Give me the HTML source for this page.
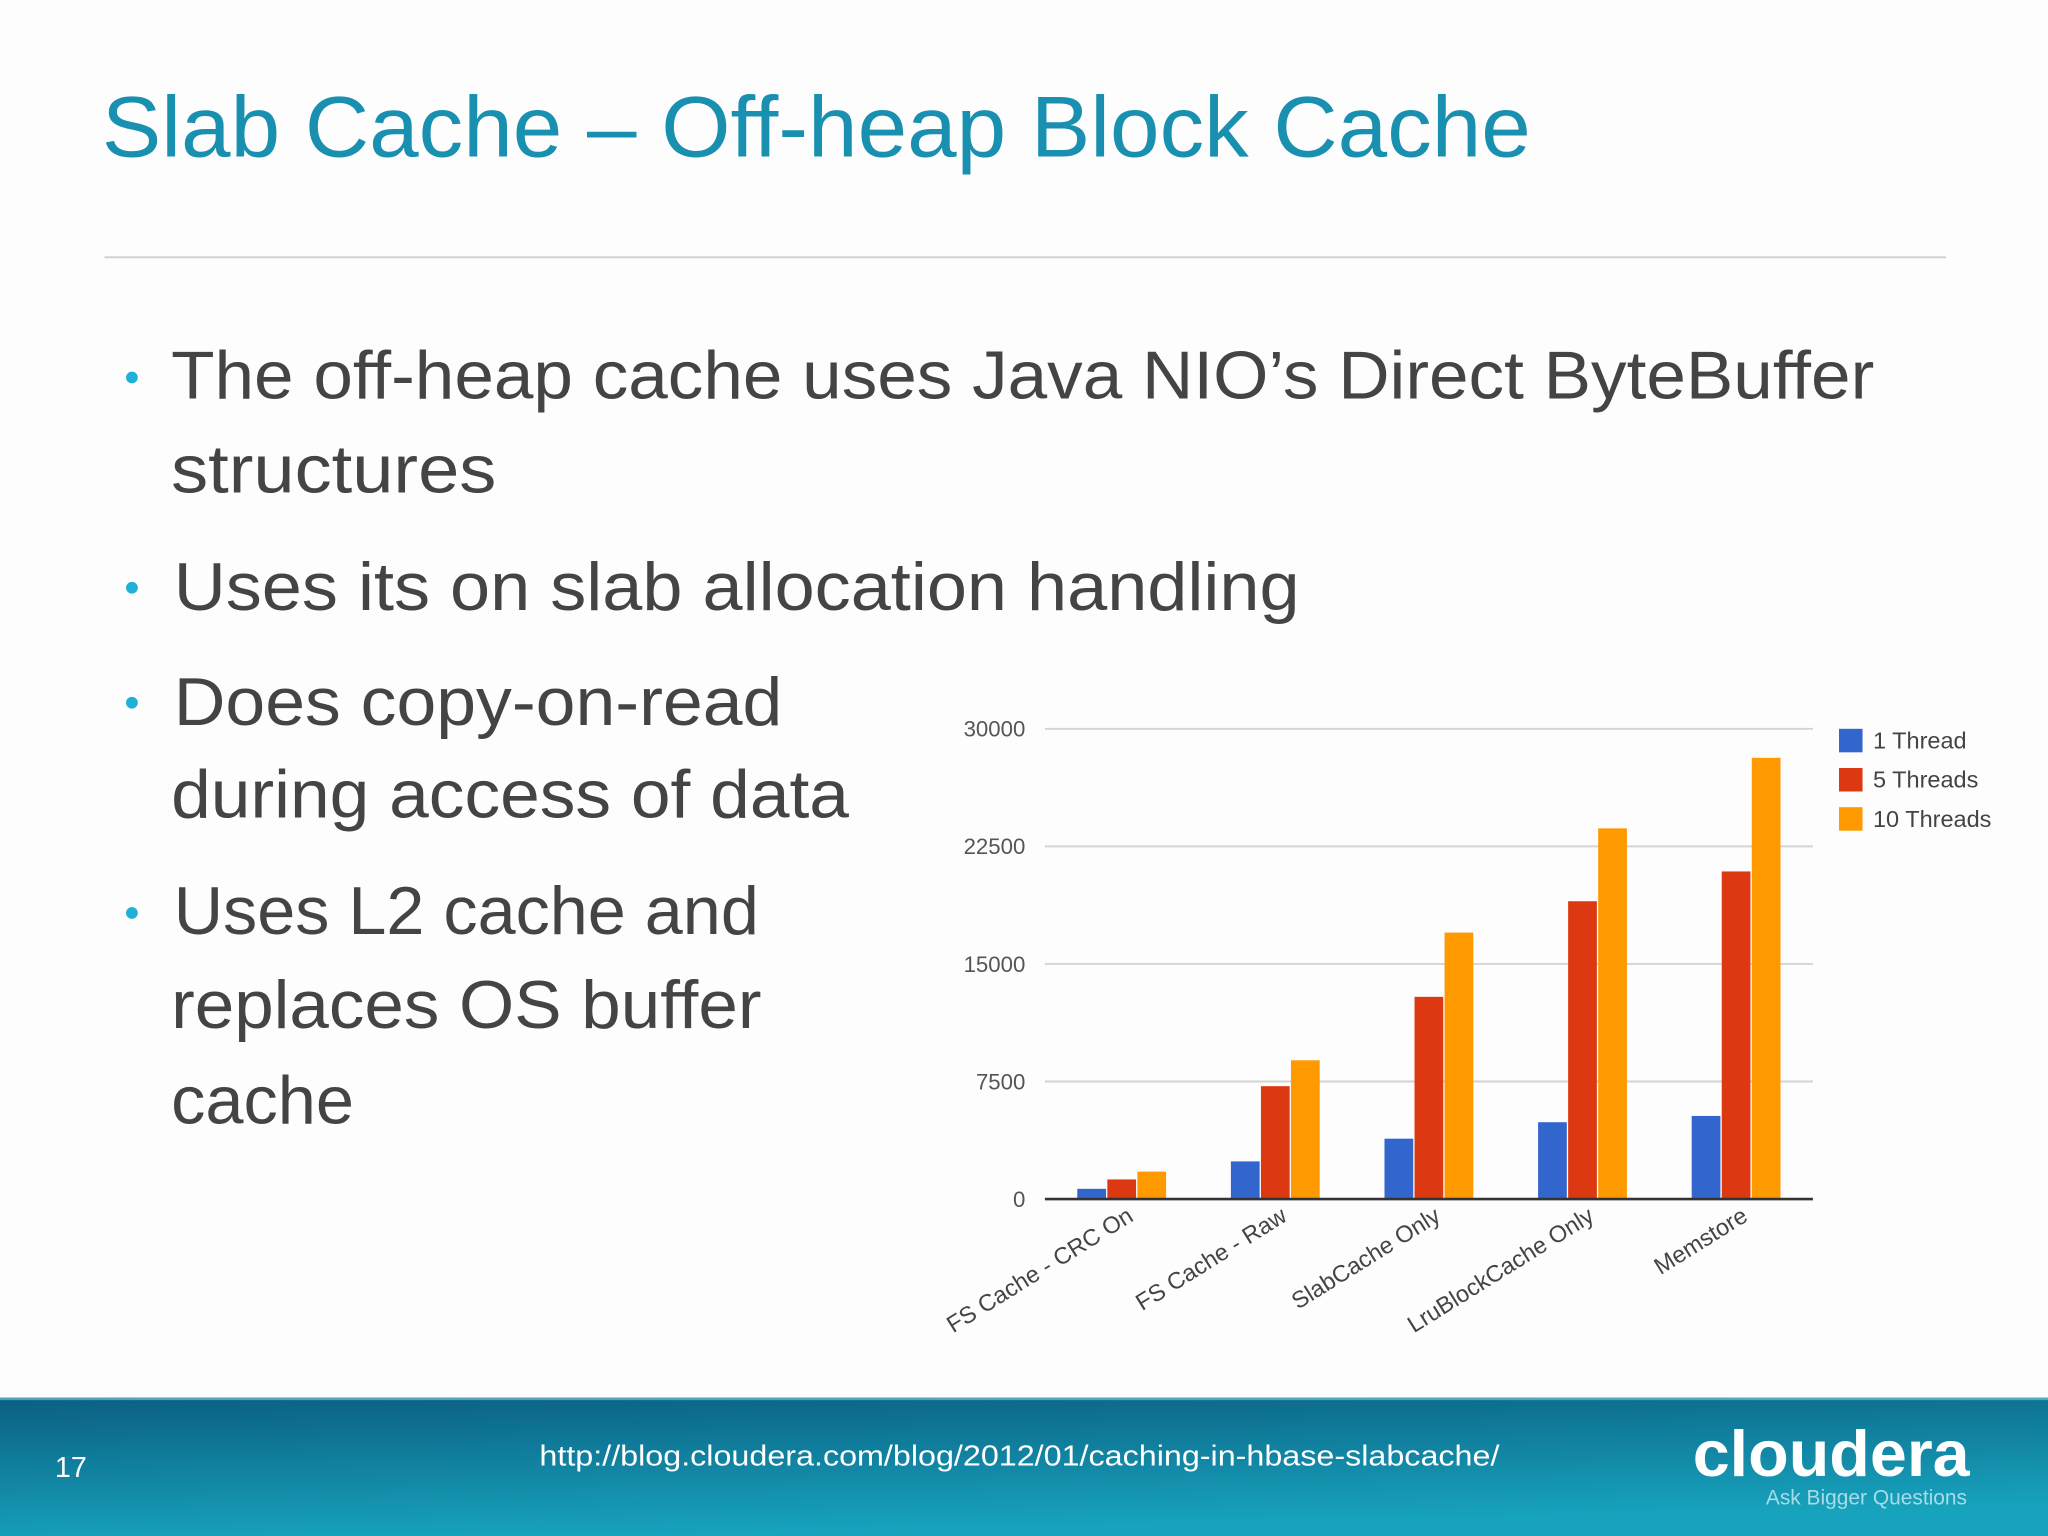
<!DOCTYPE html>
<html><head><meta charset="utf-8"><style>
html,body{margin:0;padding:0;background:#fff;}
svg{display:block;}
</style></head><body>
<svg id="slide" width="2048" height="1536" viewBox="0 0 1568 1176" xmlns="http://www.w3.org/2000/svg" font-family="'Liberation Sans', sans-serif">
<defs>
<linearGradient id="foot" x1="0" y1="0" x2="0.3" y2="1">
<stop offset="0" stop-color="#0b5f82"/><stop offset="1" stop-color="#17a3bd"/>
</linearGradient>
</defs>
<rect width="1568" height="1176" fill="#fdfdfe"/>
<text x="78" y="120" font-size="66" fill="#1a90b0" textLength="1094" lengthAdjust="spacingAndGlyphs">Slab Cache – Off-heap Block Cache</text>
<line x1="80" y1="197" x2="1490" y2="197" stroke="#cfcfcf" stroke-width="1.5"/>
<g fill="#444" font-size="52">
<circle cx="101" cy="289" r="4.5" fill="#1fb0d8"/>
<text x="131" y="305" textLength="1304" lengthAdjust="spacingAndGlyphs">The off-heap cache uses Java NIO’s Direct ByteBuffer</text>
<text x="131" y="377" textLength="249" lengthAdjust="spacingAndGlyphs">structures</text>
<circle cx="101" cy="450" r="4.5" fill="#1fb0d8"/>
<text x="133" y="467" textLength="862" lengthAdjust="spacingAndGlyphs">Uses its on slab allocation handling</text>
<circle cx="101" cy="538" r="4.5" fill="#1fb0d8"/>
<text x="133" y="555" textLength="466" lengthAdjust="spacingAndGlyphs">Does copy-on-read</text>
<text x="131" y="626" textLength="519" lengthAdjust="spacingAndGlyphs">during access of data</text>
<circle cx="101" cy="699" r="4.5" fill="#1fb0d8"/>
<text x="133" y="715" textLength="448" lengthAdjust="spacingAndGlyphs">Uses L2 cache and</text>
<text x="131" y="787" textLength="452" lengthAdjust="spacingAndGlyphs">replaces OS buffer</text>
<text x="131" y="860" textLength="140" lengthAdjust="spacingAndGlyphs">cache</text>
</g>
<g id="chart"></g>
<g>
<rect x="0" y="1070" width="1568" height="106" fill="url(#foot)"/>
<rect x="0" y="1070" width="1568" height="2" fill="#7fd0e0" opacity="0.6"/>
<text x="42" y="1131" font-size="22" fill="#fff">17</text>
<text x="413" y="1122" font-size="22" fill="#fff" textLength="735" lengthAdjust="spacingAndGlyphs">http://blog.cloudera.com/blog/2012/01/caching-in-hbase-slabcache/</text>
<text x="1296" y="1130" font-size="50" font-weight="bold" fill="#fff" textLength="212" lengthAdjust="spacingAndGlyphs">cloudera</text>
<text x="1352" y="1152" font-size="16" fill="#a6dcea" textLength="154" lengthAdjust="spacingAndGlyphs">Ask Bigger Questions</text>
</g>
</svg>
<script>
const categories = ["FS Cache - CRC On","FS Cache - Raw","SlabCache Only","LruBlockCache Only","Memstore"];
const seriesNames = ["1 Thread","5 Threads","10 Threads"];
const oneThread = [650, 2400, 3850, 4900, 5300];
const fiveThreads = [1250, 7200, 12900, 19000, 20900];
const tenThreads = [1750, 8850, 17000, 23650, 28150];
const yTicks = [0, 7500, 15000, 22500, 30000];
const tickLabels = ["0","7500","15000","22500","30000"];

const NS = "http://www.w3.org/2000/svg";
const chart = document.getElementById("chart");
const colors = ["#3366cc","#dc3912","#ff9900"];
const series = [oneThread, fiveThreads, tenThreads];
const X0 = 800, X1 = 1388, Y0 = 918, Y1 = 558, YMAX = 30000;
const band = (X1 - X0) / categories.length;
function yScale(v){ return Y0 - (v / YMAX) * (Y0 - Y1); }
function xCenter(i){ return X0 + band * (i + 0.5); }
function mk(tag, attrs){ const e = document.createElementNS(NS, tag); for (const k in attrs) e.setAttribute(k, attrs[k]); chart.appendChild(e); return e; }

yTicks.forEach((t, i) => {
  const y = yScale(t);
  if (t !== 0) {
    const g = mk("line", {x1: X0, x2: X1, y1: y, y2: y, stroke: "#d4d4d4", "stroke-width": 1.5});
    
    
  }
  const tx = mk("text", {x: 785, y: y + 6, "text-anchor": "end", "font-size": 17, fill: "#555"});
  tx.textContent = tickLabels[i];
  
  
});

const bw = 22;
categories.forEach((c, i) => {
  const cx = xCenter(i);
  series.forEach((s, j) => {
    const v = s[i];
    const x = cx - 1.5 * bw - 1 + j * (bw + 1);
    const r = mk("rect", {x: x, y: yScale(v), width: bw, height: Y0 - yScale(v), fill: colors[j]});
    
    
  });
  const lx = cx + 10, ly = 934;
  const t = mk("text", {x: lx, y: ly, "text-anchor": "end", "font-size": 18, fill: "#444", transform: `rotate(-32 ${lx} ${ly})`});
  t.textContent = c;
  
  
});

const axis = mk("line", {x1: X0, x2: X1, y1: Y0, y2: Y0, stroke: "#333", "stroke-width": 2});



seriesNames.forEach((n, j) => {
  const y = 558 + j * 30;
  const sq = mk("rect", {x: 1408, y: y, width: 18, height: 18, fill: colors[j]});
  
  
  const t = mk("text", {x: 1434, y: y + 15, "font-size": 18, fill: "#444"});
  t.textContent = n;
  
  
});
</script>
</body></html>
